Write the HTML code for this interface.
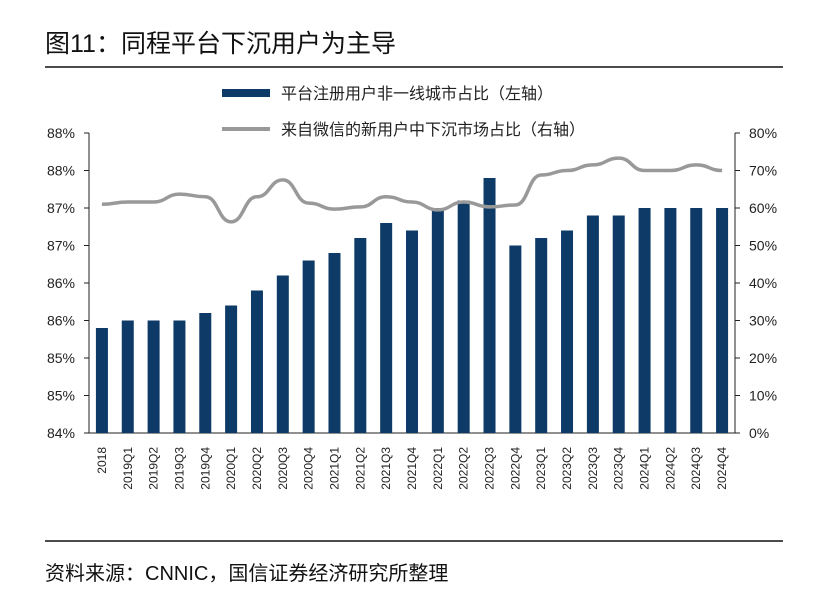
<!DOCTYPE html>
<html><head><meta charset="utf-8"><style>
body{margin:0;background:#fff;width:813px;height:607px;overflow:hidden;font-family:"Liberation Sans","Noto Sans CJK SC",sans-serif}
</style></head><body>
<svg width="813" height="607" xmlns="http://www.w3.org/2000/svg" font-family="Liberation Sans, Noto Sans CJK SC, sans-serif">
<text x="45" y="52" font-size="25" fill="#111">图11：同程平台下沉用户为主导</text>
<line x1="45" y1="67" x2="783" y2="67" stroke="#111" stroke-width="1.5"/>
<rect x="222" y="89" width="48" height="8" fill="#0d3a66"/>
<text x="281" y="99" font-size="16" fill="#222">平台注册用户非一线城市占比（左轴）</text>
<line x1="222" y1="129" x2="270" y2="129" stroke="#999" stroke-width="4"/>
<text x="281" y="135" font-size="16" fill="#222">来自微信的新用户中下沉市场占比（右轴）</text>
<g id="axes"></g>
<g id="bars"></g>
<g id="line"></g>
<line x1="45" y1="541" x2="783" y2="541" stroke="#111" stroke-width="1.5"/>
<text x="45" y="580" font-size="20" fill="#111">资料来源：CNNIC，国信证券经济研究所整理</text>
</svg>
<script>
const categories=["2018","2019Q1","2019Q2","2019Q3","2019Q4","2020Q1","2020Q2","2020Q3","2020Q4","2021Q1","2021Q2","2021Q3","2021Q4","2022Q1","2022Q2","2022Q3","2022Q4","2023Q1","2023Q2","2023Q3","2023Q4","2024Q1","2024Q2","2024Q3","2024Q4"];
const barValues=[85.4,85.5,85.5,85.5,85.6,85.7,85.9,86.1,86.3,86.4,86.6,86.8,86.7,87.0,87.1,87.4,86.5,86.6,86.7,86.9,86.9,87.0,87.0,87.0,87.0];
const lineValues=[61,61.6,61.6,63.7,63,56.3,63,67.5,61.3,59.7,60.3,63,61.6,59.5,61.6,60.3,60.8,68.8,70,71.5,73.3,70,70,71.5,70];
const leftTicks=[84,84.5,85,85.5,86,86.5,87,87.5,88];
const leftTickLabels=["84%","85%","85%","86%","86%","87%","87%","88%","88%"];
const rightTicks=[0,10,20,30,40,50,60,70,80];
const rightTickLabels=["0%","10%","20%","30%","40%","50%","60%","70%","80%"];
</script>
<script>
(function(){
const NS="http://www.w3.org/2000/svg";
const cats=categories;
const yTop=133,yBot=433,xl=89,xr=735;
const n=cats.length;
const step=(xr-xl)/n;
const xC=i=>xl+step*(i+0.5);
const yL=v=>yBot-(v-84)/4*(yBot-yTop);
const yR=v=>yBot-v/80*(yBot-yTop);
function mk(t,a,p){const e=document.createElementNS(NS,t);for(const k in a)e.setAttribute(k,a[k]);p.appendChild(e);return e;}
const ax=document.getElementById('axes');
let e=mk('line',{x1:xl,y1:yTop,x2:xl,y2:yBot,stroke:'#222'},ax);


e=mk('line',{x1:xr,y1:yTop,x2:xr,y2:yBot,stroke:'#222'},ax);


e=mk('line',{x1:xl,y1:yBot,x2:xr,y2:yBot,stroke:'#222'},ax);


leftTicks.forEach((v,i)=>{const y=yL(v);
 let l=mk('line',{x1:xl-5,y1:y,x2:xl,y2:y,stroke:'#222'},ax);
 
 
 let t=mk('text',{x:xl-14,y:y+5,'font-size':14,'text-anchor':'end',fill:'#222'},ax);t.textContent=leftTickLabels[i];
 
 });
rightTicks.forEach((v,i)=>{const y=yR(v);
 let l=mk('line',{x1:xr,y1:y,x2:xr+5,y2:y,stroke:'#222'},ax);
 
 
 let t=mk('text',{x:xr+14,y:y+5,'font-size':14,fill:'#222'},ax);t.textContent=rightTickLabels[i];
 
 });
const bg=document.getElementById('bars');
cats.forEach((c,i)=>{const x=xC(i);
 if(barValues[i]!=null){const y=yL(barValues[i]);
 let r=mk('rect',{x:x-6,y:y,width:12,height:yBot-y,fill:'#0d3a66'},bg);
 
 }
 let t=mk('text',{x:0,y:0,'font-size':12,'text-anchor':'end',fill:'#222',transform:`translate(${x+4},${yBot+14}) rotate(-90)`},ax);t.textContent=c;
 
 });
const lg=document.getElementById('line');
const pts=lineValues.map((v,i)=>[xC(i),yR(v)]);
let d='M'+pts[0][0]+','+pts[0][1];
for(let i=1;i<pts.length;i++){const p0=pts[i-1],p1=pts[i],mx=(p0[0]+p1[0])/2;d+=` C${mx},${p0[1]} ${mx},${p1[1]} ${p1[0]},${p1[1]}`;}
let pl=mk('path',{d:d,fill:'none',stroke:'#999','stroke-width':3.5},lg);


})();
</script>
</body></html>
